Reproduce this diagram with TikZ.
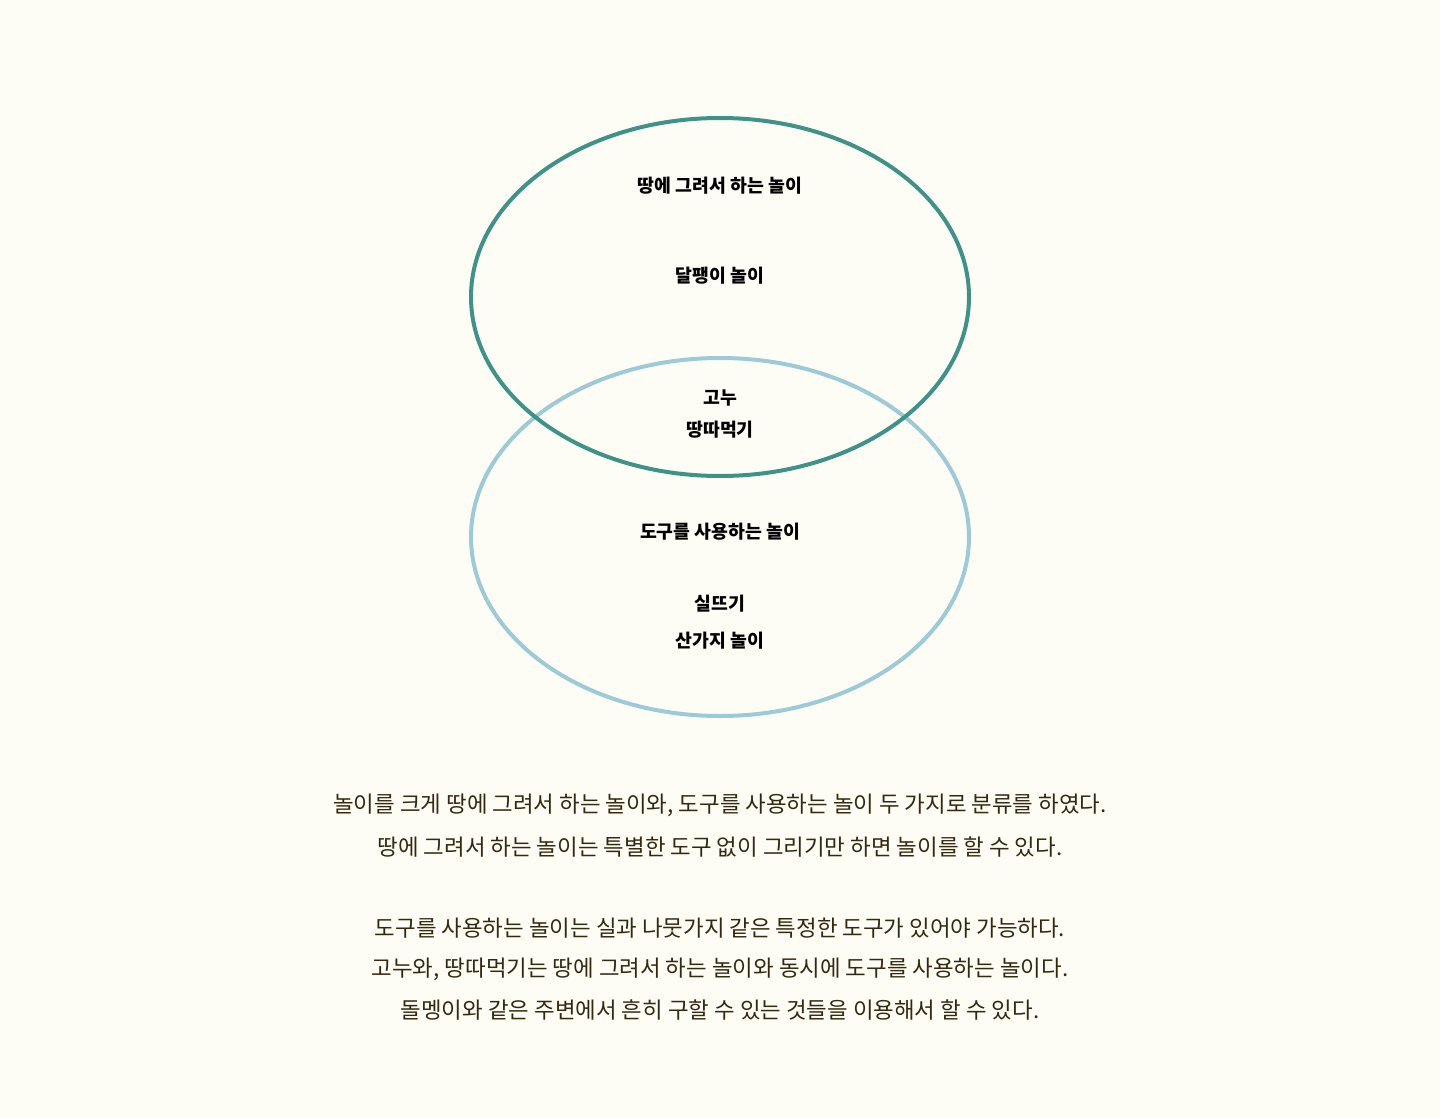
\documentclass[tikz,border=0pt]{standalone}
\usepackage{fontspec}
\usepackage{xcolor}
\usepackage{tikz}
\usetikzlibrary{positioning}
\newfontfamily\kr{Noto Sans CJK KR}
\definecolor{paper}{RGB}{254, 253, 245}
\definecolor{tealring}{RGB}{62, 146, 136}
\definecolor{skyring}{RGB}{156, 202, 216}
\definecolor{inkbrown}{RGB}{52, 40, 14}
\tikzstyle{ring} = [
    line width=4pt
]
\tikzstyle{tag} = [
    inner sep=0pt,
    text centered,
    font=\kr\fontsize{18.3pt}{22pt}\selectfont\bfseries
]
\tikzstyle{note} = [
    inner sep=0pt,
    text centered,
    color=inkbrown,
    font=\kr\fontsize{22.4pt}{26pt}\selectfont
]

\begin{document}
\begin{tikzpicture}[x=1pt, y=-1pt]
        \fill[paper] (0,0) rectangle (1440,1118);
        \useasboundingbox (0,0) rectangle (1440,1118);

        % Rings
        \draw[ring, draw=skyring] (720,537) ellipse [x radius=249pt, y radius=179pt];
        \draw[ring, draw=tealring] (720,297) ellipse [x radius=249pt, y radius=179pt];

        % Upper ring
        \node[tag] (ground) at (720,186) {땅에 그려서 하는 놀이};
        \node[tag] (snail) at (720,276) {달팽이 놀이};

        % Overlap
        \node[tag] (gonu) at (720,398) {고누};
        \node[tag] (ttang) at (720,430) {땅따먹기};

        % Lower ring
        \node[tag] (tools) at (720,532) {도구를 사용하는 놀이};
        \node[tag] (string) at (720,604) {실뜨기};
        \node[tag] (stick) at (720,641) {산가지 놀이};

        % Notes
        \node[note] (line1) at (720,805) {놀이를 크게 땅에 그려서 하는 놀이와, 도구를 사용하는 놀이 두 가지로 분류를 하였다.};
        \node[note] (line2) at (720,847) {땅에 그려서 하는 놀이는 특별한 도구 없이 그리기만 하면 놀이를 할 수 있다.};
        \node[note] (line3) at (720,928) {도구를 사용하는 놀이는 실과 나뭇가지 같은 특정한 도구가 있어야 가능하다.};
        \node[note] (line4) at (720,969) {고누와, 땅따먹기는 땅에 그려서 하는 놀이와 동시에 도구를 사용하는 놀이다.};
        \node[note] (line5) at (720,1010) {돌멩이와 같은 주변에서 흔히 구할 수 있는 것들을 이용해서 할 수 있다.};
    \end{tikzpicture}
\end{document}
